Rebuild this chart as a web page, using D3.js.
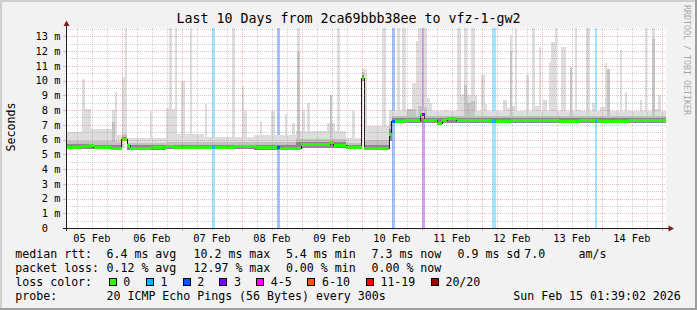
<!DOCTYPE html>
<html>
<head>
<meta charset="utf-8">
<script src="https://cdn.jsdelivr.net/npm/d3@7"></script>
<style>
  html, body { margin: 0; padding: 0; background: #fff; }
  svg { display: block; }
  text { font-family: "DejaVu Sans Mono", monospace; fill: #000; }
</style>
</head>
<body>
<svg id="chart" width="697" height="310"></svg>
<script>
// ---- data ----------------------------------------------------------------
const title = 'Last 10 Days from 2ca69bbb38ee to vfz-1-gw2';
const startTime = new Date(2026, 1, 5, 1, 39, 2);
const endTime = new Date(2026, 1, 15, 1, 39, 2);
const spanHours = 240;

const yTickValues = [0, 1, 2, 3, 4, 5, 6, 7, 8, 9, 10, 11, 12, 13]; // ms

// median rtt (ms), stepped: value holds from hour[i] to hour[i+1]
const medianHour = [0, 6, 9, 11, 18, 22.3, 24.4, 25.6, 34, 40, 43, 52, 60, 67, 76, 85, 94,
  105.6, 107, 112, 118.2, 119.2, 129.2, 130.3, 135, 141.6, 143.2, 148.4, 150.5, 152.5,
  156.3, 170, 178, 183, 197, 205, 213, 225, 240];
const medianMs = [5.5, 5.55, 5.6, 5.5, 5.45, 6.05, 5.6, 5.42, 5.5, 5.58, 5.5, 5.48, 5.5,
  5.58, 5.5, 5.45, 5.68, 5.8, 5.62, 5.47, 10.2, 5.45, 6.35, 7.25, 7.33, 7.72, 7.3, 7.12,
  7.3, 7.44, 7.3, 7.25, 7.35, 7.3, 7.25, 7.32, 7.28, 7.3, 7.3];

// background smoke, per segment [smokeHour[i], smokeHour[i+1]]
const smokeHour  = [0, 10, 20.4, 22.3, 24.4, 40, 55, 75, 92, 112, 118.2, 119.2, 129.2, 130.3, 240];
const smokeLow   = [5.35, 5.35, 5.3, 5.9, 5.3, 5.35, 5.35, 5.3, 5.45, 5.35, 10.0, 5.3, 5.9, 7.12];
const smokeDark  = [5.68, 5.66, 5.62, 6.2, 5.6, 5.66, 5.62, 5.62, 5.84, 5.6, 10.4, 5.64, 6.7, 7.48];
const smokeMid   = [5.9, 5.9, 5.8, 6.4, 5.75, 5.85, 5.8, 5.8, 6.05, 5.75, 10.6, 5.95, 7.2, 7.62];
const smokeLight = [6.5, 6.7, 6.3, 6.8, 6.1, 6.4, 6.2, 6.3, 6.6, 6.1, 10.8, 6.9, 8.0, 7.9];

// max-ping spikes [fromHour, toHour, topMs]; 14 = beyond the top of the graph
const lightSpikes = [
  [6.4, 7.6, 10.1], [7.6, 9.9, 8.05], [18.3, 19.5, 8.0], [19.5, 20.4, 9.2], [22.2, 23.5, 10.25],
  [23.5, 24.4, 14], [33.6, 34.5, 7.9], [39.9, 41.2, 8.15], [41.2, 42.4, 14], [42.4, 43.6, 8.05],
  [43.6, 44.5, 14], [46.1, 47.5, 10.0], [49.6, 50.5, 14], [55.6, 56.4, 8.4], [66.4, 67.6, 14],
  [70.3, 71.2, 9.6], [71.2, 72.5, 7.95], [77.6, 78.5, 7.25], [82.1, 83.5, 7.9], [87.5, 88.3, 7.7],
  [90.4, 91.6, 7.1], [92.3, 93.6, 14], [94.3, 95.5, 8.0], [96.3, 97.6, 8.5], [104.3, 107.6, 7.15],
  [108.3, 109.6, 14], [114.3, 115.6, 7.9], [118.2, 119.2, 10.8], [119.2, 120.5, 10.8],
  [126.5, 127.9, 14], [131.6, 132.4, 7.6], [132.4, 133.6, 14], [134.3, 135.9, 14],
  [135.9, 138.5, 7.9], [138.5, 139.9, 9.85], [139.9, 140.9, 12.7], [140.9, 142.5, 14],
  [143.2, 144.3, 14], [144.3, 145.6, 8.8], [145.6, 146.5, 8.5], [146.5, 151.2, 7.8],
  [151.2, 153.2, 8.0], [153.2, 156.3, 7.8], [156.3, 158.1, 14], [158.1, 159.2, 9.1],
  [159.2, 160.5, 14], [160.5, 161.9, 9.0], [162.1, 163.5, 14], [163.5, 164.5, 9.05],
  [166.1, 167.5, 10.35], [167.5, 168.3, 8.4], [172.5, 173.9, 7.6], [174.8, 176.3, 8.7],
  [176.3, 177.6, 8.15], [177.6, 178.3, 13.1], [178.3, 179.5, 8.3], [179.5, 180.5, 14],
  [183.9, 185.2, 10.4], [186.3, 187.6, 14], [187.6, 189.2, 8.3], [189.2, 190.1, 12.3],
  [190.9, 192.5, 8.7], [193.2, 194.1, 11.25], [194.1, 195.5, 12.6], [195.5, 196.5, 14],
  [197.9, 199.9, 12.3], [201.6, 202.5, 10.9], [203.6, 204.5, 14], [204.5, 205.9, 8.0],
  [208.0, 209.6, 14], [210.5, 211.6, 8.5], [213.6, 215.5, 8.2], [215.5, 216.3, 11.2],
  [216.3, 217.6, 10.8], [221.6, 222.4, 12.1], [223.6, 224.5, 9.2], [229.6, 230.5, 8.7],
  [231.6, 232.5, 14], [234.3, 235.6, 14], [235.6, 236.8, 8.1], [236.8, 238.0, 9.05],
  [238.0, 239.2, 7.8]
];
// denser part of the smoke inside some spikes
const midSpikes = [
  [18.3, 19.5, 7.2], [92.3, 93.6, 11.9], [105.5, 106.3, 9.05], [136.5, 140, 8.1],
  [140.9, 142.5, 8.3], [143.2, 144.3, 8.2], [159.2, 160.5, 9.7], [160.5, 161.9, 8.5],
  [162.1, 163.5, 8.6], [177.6, 178.3, 12.0], [201.6, 202.5, 10.9], [216.3, 217.6, 10.8],
  [234.3, 235.6, 12.8]
];

// packet loss events [fromHour, toHour, lossLevelIndex]
const lossEvents = [
  [58.4, 59.6, 1], [84.5, 85.7, 2], [130.3, 131.5, 2], [142.3, 143.5, 3],
  [170.5, 171.8, 1], [211.6, 212.5, 1]
];
const lossLabels = ['0', '1', '2', '3', '4-5', '6-10', '11-19', '20/20'];
const lossColors = ['#26ff00', '#00b8ff', '#0059ff', '#7e00ff', '#ff00ff', '#ff5500', '#ff0000', '#a00000'];

const rttStats = ['6.4 ms avg', '10.2 ms max', '5.4 ms min', '7.3 ms now', '0.9 ms sd', '7.0'];
const lossStats = ['0.12 % avg', '12.97 % max', '0.00 % min', '0.00 % now'];
const probeText = '20 ICMP Echo Pings (56 Bytes) every 300s';
const stampText = 'Sun Feb 15 01:39:02 2026';

// ---- layout ---------------------------------------------------------------
const W = 697, H = 310;
const plotLeft = 66, plotRight = 666, plotTop = 28, plotBottom = 228;
const gridColor = 'rgba(143,143,143,0.42)';
const mgridColor = 'rgba(222,79,79,0.4)';

const svg = d3.select('#chart');

const x = d3.scaleLinear().domain([0, spanHours]).range([plotLeft, plotRight]);
const xTime = d3.scaleTime().domain([startTime, endTime]).range([plotLeft, plotRight]);
const y = d3.scaleLinear().domain([0, 13.56]).range([plotBottom, plotTop]);
const snap = v => Math.round(v) + 0.5;

const medianAt = h => medianMs[Math.max(0, d3.bisectRight(medianHour, h) - 1)];

// background + 3d border
svg.append('rect').attr('width', W).attr('height', H).attr('fill', '#f2f2f2');
svg.append('rect').attr('x', 0).attr('y', 0).attr('width', W).attr('height', 2).attr('fill', '#cfcfcf');
svg.append('rect').attr('x', 0).attr('y', 0).attr('width', 2).attr('height', H).attr('fill', '#cfcfcf');
svg.append('rect').attr('x', 0).attr('y', H - 2).attr('width', W).attr('height', 2).attr('fill', '#9e9e9e');
svg.append('rect').attr('x', W - 2).attr('y', 0).attr('width', 2).attr('height', H).attr('fill', '#9e9e9e');

svg.append('rect')
  .attr('x', plotLeft).attr('y', plotTop).attr('width', plotRight - plotLeft).attr('height', plotBottom - plotTop)
  .attr('fill', '#fff');

svg.append('defs').append('clipPath').attr('id', 'plot')
  .append('rect').attr('x', plotLeft).attr('y', plotTop)
  .attr('width', plotRight - plotLeft).attr('height', plotBottom - plotTop);

const plot = svg.append('g').attr('clip-path', 'url(#plot)').attr('shape-rendering', 'crispEdges');

// loss background bars
plot.selectAll('rect.lossbg')
  .data(lossEvents)
  .enter().append('rect')
  .attr('class', 'lossbg')
  .attr('x', d => x(d[0]))
  .attr('width', d => x(d[1]) - x(d[0]))
  .attr('y', plotTop)
  .attr('height', plotBottom - plotTop)
  .attr('fill', d => d3.interpolateRgb('#ffffff', lossColors[d[2]])(0.36));

const smokeSegs = smokeLow.map((low, i) => ({
  h0: smokeHour[i], h1: smokeHour[i + 1],
  low, dark: smokeDark[i], mid: smokeMid[i], light: smokeLight[i]
}));

function spikeRects(data, color) {
  plot.append('g').selectAll('rect')
    .data(data)
    .enter().append('rect')
    .attr('x', d => x(d[0]))
    .attr('width', d => x(d[1]) - x(d[0]))
    .attr('y', d => y(d[2]))
    .attr('height', d => Math.max(0, y(medianAt(d[0])) - y(d[2])))
    .attr('fill', color);
}

function smokeRects(key, color) {
  plot.append('g').selectAll('rect')
    .data(smokeSegs)
    .enter().append('rect')
    .attr('x', d => x(d.h0))
    .attr('width', d => x(d.h1) - x(d.h0))
    .attr('y', d => y(d[key]))
    .attr('height', d => y(d.low) - y(d[key]))
    .attr('fill', color);
}

spikeRects(lightSpikes, '#dddddd');
smokeRects('light', '#dddddd');
spikeRects(midSpikes, '#c4c4c4');
smokeRects('mid', '#c2c2c2');
smokeRects('dark', '#8a8a8a');

// median line
const medianPts = medianHour.map((h, i) => [h, medianMs[i]]);
plot.append('path')
  .datum(medianPts)
  .attr('fill', 'none')
  .attr('stroke', '#202020')
  .attr('stroke-width', 1)
  .attr('d', d3.line().x(d => x(d[0])).y(d => snap(y(d[1]))).curve(d3.curveStepAfter));

// loss-coloured median band
const bandSegs = medianPts.slice(0, -1).map((p, i) => ({ h0: p[0], h1: medianHour[i + 1], v: p[1] }));
plot.append('g').selectAll('rect')
  .data(bandSegs)
  .enter().append('rect')
  .attr('x', d => x(d.h0))
  .attr('width', d => x(d.h1) - x(d.h0))
  .attr('y', d => Math.round(y(d.v)) - 1)
  .attr('height', 3)
  .attr('fill', lossColors[0]);
plot.append('g').selectAll('rect')
  .data(lossEvents)
  .enter().append('rect')
  .attr('x', d => x(d[0]))
  .attr('width', d => x(d[1]) - x(d[0]))
  .attr('y', d => Math.round(y(medianAt(d[0]))) - 1)
  .attr('height', 3)
  .attr('fill', d => lossColors[d[2]]);

// grid (drawn over the data, like rrdtool)
const grid = svg.append('g').attr('shape-rendering', 'crispEdges').attr('stroke-dasharray', '1,1');
const minorY = d3.range(0.5, 13.56, 1);
grid.selectAll('line.hmin').data(minorY).enter().append('line')
  .attr('x1', plotLeft).attr('x2', plotRight)
  .attr('y1', d => snap(y(d))).attr('y2', d => snap(y(d)))
  .attr('stroke', gridColor);
const minorX = d3.timeHour.every(6).range(startTime, endTime)
  .filter(t => t.getHours() !== 0);
grid.selectAll('line.vmin').data(minorX).enter().append('line')
  .attr('x1', d => snap(xTime(d))).attr('x2', d => snap(xTime(d)))
  .attr('y1', plotTop).attr('y2', plotBottom)
  .attr('stroke', gridColor);
grid.selectAll('line.hmaj').data(yTickValues.slice(1)).enter().append('line')
  .attr('x1', plotLeft).attr('x2', plotRight)
  .attr('y1', d => snap(y(d))).attr('y2', d => snap(y(d)))
  .attr('stroke', mgridColor);
const days = d3.timeDay.range(startTime, endTime);
grid.selectAll('line.vmaj').data(days).enter().append('line')
  .attr('x1', d => snap(xTime(d))).attr('x2', d => snap(xTime(d)))
  .attr('y1', plotTop).attr('y2', plotBottom)
  .attr('stroke', mgridColor);

// small tick marks on the axes
const ticks = svg.append('g').attr('shape-rendering', 'crispEdges');
ticks.selectAll('line.ty').data(yTickValues).enter().append('line')
  .attr('x1', plotLeft - 3).attr('x2', plotLeft)
  .attr('y1', d => snap(y(d))).attr('y2', d => snap(y(d)))
  .attr('stroke', mgridColor);
ticks.selectAll('line.tx').data(days).enter().append('line')
  .attr('x1', d => snap(xTime(d))).attr('x2', d => snap(xTime(d)))
  .attr('y1', plotBottom).attr('y2', plotBottom + 3)
  .attr('stroke', mgridColor);
ticks.selectAll('line.tx2').data(minorX).enter().append('line')
  .attr('x1', d => snap(xTime(d))).attr('x2', d => snap(xTime(d)))
  .attr('y1', plotBottom).attr('y2', plotBottom + 2)
  .attr('stroke', gridColor);

// axes with arrows
const axis = svg.append('g').attr('shape-rendering', 'crispEdges');
axis.append('line').attr('x1', plotLeft + 0.5).attr('x2', plotLeft + 0.5)
  .attr('y1', plotBottom + 3).attr('y2', 24)
  .attr('stroke', '#1f1f1f');
axis.append('line').attr('x1', plotLeft - 3).attr('x2', plotRight + 3)
  .attr('y1', plotBottom + 0.5).attr('y2', plotBottom + 0.5)
  .attr('stroke', '#1f1f1f');
svg.append('path')
  .attr('d', `M${plotLeft + 0.5},20.5 L${plotLeft + 3.5},26 L${plotLeft - 2.5},26 Z`)
  .attr('fill', '#801f1f');
svg.append('path')
  .attr('d', `M${plotRight + 8},${plotBottom + 0.5} L${plotRight + 2.5},${plotBottom - 2.5} L${plotRight + 2.5},${plotBottom + 3.5} Z`)
  .attr('fill', '#801f1f');

// y tick labels: number and unit in their own columns
svg.append('g').selectAll('text')
  .data(yTickValues)
  .enter().append('text')
  .attr('x', 48).attr('y', d => y(d) + 3.8)
  .attr('text-anchor', 'end')
  .style('font-size', '10.3px')
  .text(d => d3.format('d')(d));
svg.append('g').selectAll('text')
  .data(yTickValues.filter(d => d > 0))
  .enter().append('text')
  .attr('x', 60.4).attr('y', d => y(d) + 3.8)
  .attr('text-anchor', 'end')
  .style('font-size', '10.3px')
  .text('m');

// x labels centred at noon
const noons = d3.timeDay.range(d3.timeDay.floor(startTime), endTime)
  .map(d => d3.timeHour.offset(d, 12))
  .filter(d => d > startTime && d < endTime);
svg.append('g').selectAll('text')
  .data(noons)
  .enter().append('text')
  .attr('x', d => xTime(d)).attr('y', 241.5)
  .attr('text-anchor', 'middle')
  .style('font-size', '10.3px')
  .text(d => d3.timeFormat('%d %b')(d));

// title and side texts
svg.append('text').attr('x', 348.5).attr('y', 22.7).attr('text-anchor', 'middle')
  .style('font-size', '13.3px').text(title);
svg.append('text').attr('transform', 'translate(15,127) rotate(-90)').attr('text-anchor', 'middle')
  .style('font-size', '11.6px').text('Seconds');
svg.append('text').attr('transform', 'translate(683.6,5) rotate(90)')
  .style('font-size', '8.3px').style('fill', '#a8a8a8').text('RRDTOOL / TOBI OETIKER');

// legend
const rowY = [258.3, 272.2, 286, 299.8];
const statX = [106.5, 193.5, 285.9, 371.5, 457.5, 524.2];
const legend = svg.append('g').style('font-size', '11.6px');
legend.append('text').attr('x', 15.3).attr('y', rowY[0]).text('median rtt:');
legend.append('text').attr('x', 15.3).attr('y', rowY[1]).text('packet loss:');
legend.append('text').attr('x', 15.3).attr('y', rowY[2]).text('loss color:');
legend.append('text').attr('x', 15.3).attr('y', rowY[3]).text('probe:');
legend.selectAll('text.rtt').data(rttStats).enter().append('text')
  .attr('class', 'rtt')
  .attr('x', (d, i) => statX[i]).attr('y', rowY[0]).text(d => d);
legend.append('text').attr('x', 578.5).attr('y', rowY[0]).text('am/s');
legend.selectAll('text.loss').data(lossStats).enter().append('text')
  .attr('class', 'loss')
  .attr('x', (d, i) => statX[i]).attr('y', rowY[1]).text(d => d);
legend.append('text').attr('x', statX[0]).attr('y', rowY[3]).text(probeText);
legend.append('text').attr('x', 680.8).attr('y', rowY[3]).attr('text-anchor', 'end').text(stampText);

const boxX = [108.5, 145.8, 182.5, 219.2, 255.9, 307.2, 365.6, 430.6];
const items = legend.selectAll('g.item').data(lossLabels).enter().append('g')
  .attr('class', 'item')
  .attr('transform', (d, i) => `translate(${boxX[i]},0)`);
items.append('rect')
  .attr('x', 0.5).attr('y', 278).attr('width', 7).attr('height', 7)
  .attr('fill', (d, i) => lossColors[i]).attr('stroke', '#000').attr('stroke-width', 1)
  .attr('shape-rendering', 'crispEdges');
items.append('text').attr('x', 14.8).attr('y', rowY[2]).text(d => d);
</script>
</body>
</html>
